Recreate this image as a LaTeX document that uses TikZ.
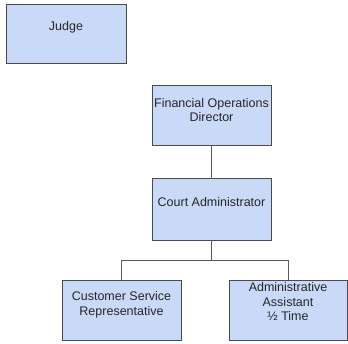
\documentclass[tikz,border=0pt]{standalone}
\usepackage{fontspec}
\setmainfont{Liberation Sans}
\begin{document}
\begin{tikzpicture}[x=1pt,y=1pt,
  box/.style={draw=boxline,fill=boxfill,line width=1pt,minimum width=119pt,minimum height=60pt,inner sep=0pt,outer sep=0pt},
  lbl/.style={align=center,font=\fontsize{12.5}{14.5}\selectfont,text=black!85},
  conn/.style={draw=connline,line width=1pt}]
\definecolor{boxfill}{HTML}{C9DAF8}
\definecolor{boxline}{HTML}{4A4A4A}
\definecolor{connline}{HTML}{5A5A5A}
\useasboundingbox (0,0) rectangle (348,343);
\node[box,minimum width=120pt,minimum height=59pt] (judge) at (66,308.5) {};
\node[box] (fod) at (211.5,227) {};
\node[box,minimum height=61pt] (ca) at (211.5,133.5) {};
\node[box] (csr) at (121.5,33) {};
\node[box,minimum width=118pt] (aa) at (288,33) {};
\coordinate (split) at (211.5,83);
\node[lbl] at ([yshift=7pt]judge.center) {Judge};
\node[lbl] at ([yshift=6pt]fod.center) {Financial Operations\\Director};
\node[lbl] at ([yshift=7pt]ca.center) {Court Administrator};
\node[lbl] at ([yshift=5pt]csr.center) {Customer Service\\Representative};
\node[lbl] at ([yshift=8pt]aa.center) {Administrative\\Assistant\\½ Time};
\draw[conn] (fod.south) -- (ca.north);
\draw[conn] (ca.south) -- (split);
\draw[conn] (split) -| (csr.north);
\draw[conn] (split) -| (aa.north);
\end{tikzpicture}
\end{document}
